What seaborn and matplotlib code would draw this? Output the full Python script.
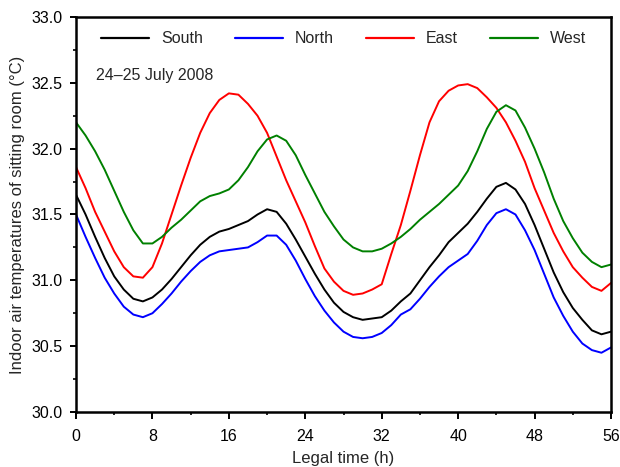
import numpy as np
import pandas as pd
import matplotlib
matplotlib.use("Agg")
import matplotlib.pyplot as plt
import seaborn as sns
from matplotlib.ticker import MultipleLocator

hours = list(range(0, 57))

south = [31.65, 31.50, 31.33, 31.17, 31.03, 30.93, 30.86, 30.84, 30.87, 30.93,
         31.01, 31.10, 31.19, 31.27, 31.33, 31.37, 31.39, 31.42, 31.45, 31.50,
         31.54, 31.52, 31.43, 31.31, 31.18, 31.05, 30.93, 30.83, 30.76, 30.72,
         30.70, 30.71, 30.72, 30.77, 30.84, 30.90, 31.00, 31.10, 31.19, 31.29,
         31.36, 31.43, 31.52, 31.62, 31.71, 31.74, 31.69, 31.58, 31.42, 31.24,
         31.06, 30.91, 30.79, 30.70, 30.62, 30.59, 30.61]

north = [31.50, 31.33, 31.17, 31.02, 30.90, 30.80, 30.74, 30.72, 30.75, 30.82,
         30.90, 30.99, 31.07, 31.14, 31.19, 31.22, 31.23, 31.24, 31.25, 31.29,
         31.34, 31.34, 31.27, 31.15, 31.01, 30.88, 30.77, 30.68, 30.61, 30.57,
         30.56, 30.57, 30.60, 30.66, 30.74, 30.78, 30.86, 30.95, 31.03, 31.10,
         31.15, 31.20, 31.30, 31.42, 31.51, 31.54, 31.50, 31.38, 31.23, 31.05,
         30.87, 30.73, 30.61, 30.52, 30.47, 30.45, 30.49]

east = [31.86, 31.70, 31.52, 31.37, 31.22, 31.10, 31.03, 31.02, 31.10, 31.28,
        31.50, 31.72, 31.93, 32.12, 32.27, 32.37, 32.42, 32.41, 32.34, 32.25,
        32.12, 31.94, 31.76, 31.60, 31.44, 31.26, 31.09, 30.99, 30.92, 30.89,
        30.90, 30.93, 30.97, 31.20, 31.42, 31.68, 31.95, 32.20, 32.36, 32.44,
        32.48, 32.49, 32.46, 32.39, 32.31, 32.20, 32.06, 31.90, 31.70, 31.53,
        31.36, 31.22, 31.10, 31.02, 30.95, 30.92, 30.98]

west = [32.20, 32.10, 31.98, 31.84, 31.68, 31.52, 31.38, 31.28, 31.28, 31.33,
        31.40, 31.46, 31.53, 31.60, 31.64, 31.66, 31.69, 31.76, 31.86, 31.98,
        32.07, 32.10, 32.06, 31.95, 31.80, 31.66, 31.52, 31.41, 31.31, 31.25,
        31.22, 31.22, 31.24, 31.28, 31.33, 31.39, 31.46, 31.52, 31.58, 31.65,
        31.72, 31.83, 31.98, 32.15, 32.28, 32.33, 32.29, 32.16, 32.00, 31.82,
        31.62, 31.45, 31.32, 31.21, 31.14, 31.10, 31.12]

series_names = ["South", "North", "East", "West"]
series_colors = ["#000000", "#0000ff", "#ff0000", "#008000"]
x_ticks = [0, 8, 16, 24, 32, 40, 48, 56]
y_ticks = [30.0, 30.5, 31.0, 31.5, 32.0, 32.5, 33.0]

df = pd.concat([
    pd.DataFrame({"time": hours, "temp": vals, "side": name})
    for name, vals in zip(series_names, [south, north, east, west])
], ignore_index=True)

sns.set_style("ticks")
plt.rcParams['font.family'] = ['Liberation Sans', 'DejaVu Sans']
plt.rcParams['xtick.direction'] = 'out'
plt.rcParams['ytick.direction'] = 'out'

fig = plt.figure(figsize=(6.2, 4.67), dpi=100)
ax = fig.add_axes([0.1226, 0.1178, 0.8629, 0.8458])

sns.lineplot(data=df, x="time", y="temp", hue="side", hue_order=series_names,
             palette=dict(zip(series_names, series_colors)), linewidth=1.4,
             ax=ax, legend=True)

ax.set_xlim(0, 56)
ax.set_ylim(30.0, 33.0)
ax.set_xticks(x_ticks)
ax.set_xticklabels([str(v) for v in x_ticks])
ax.set_yticks(y_ticks)
ax.set_yticklabels([f"{v:.1f}" for v in y_ticks])
ax.xaxis.set_minor_locator(MultipleLocator(4))
ax.yaxis.set_minor_locator(MultipleLocator(0.25))
ax.tick_params(axis='x', which='major', length=5, width=1.4, labelsize=11.5,
               colors='black', pad=7)
ax.tick_params(axis='y', which='major', length=4, width=1.4, labelsize=11.5,
               colors='black', pad=6)
ax.tick_params(axis='both', which='minor', length=2.5, width=1.4)
ax.tick_params(top=False, right=False, which='both')

for sp in ax.spines.values():
    sp.set_visible(True)
    sp.set_color('black')
    sp.set_linewidth(1.8)

ax.set_xlabel("Legal time (h)", fontsize=12, labelpad=5)
ax.set_ylabel("Indoor air temperatures of sitting room (°C)", fontsize=12, labelpad=4)

ax.text(0.037, 0.853, "24–25 July 2008", transform=ax.transAxes, fontsize=11.5,
        ha='left', va='center')

leg = ax.legend(loc='upper center', bbox_to_anchor=(0.5, 1.0), ncol=4,
                frameon=False, fontsize=11.5, handlelength=3.0,
                columnspacing=2.0, handletextpad=0.75)
for line in leg.get_lines():
    line.set_linewidth(1.6)

fig.savefig("out.png", dpi=100)
